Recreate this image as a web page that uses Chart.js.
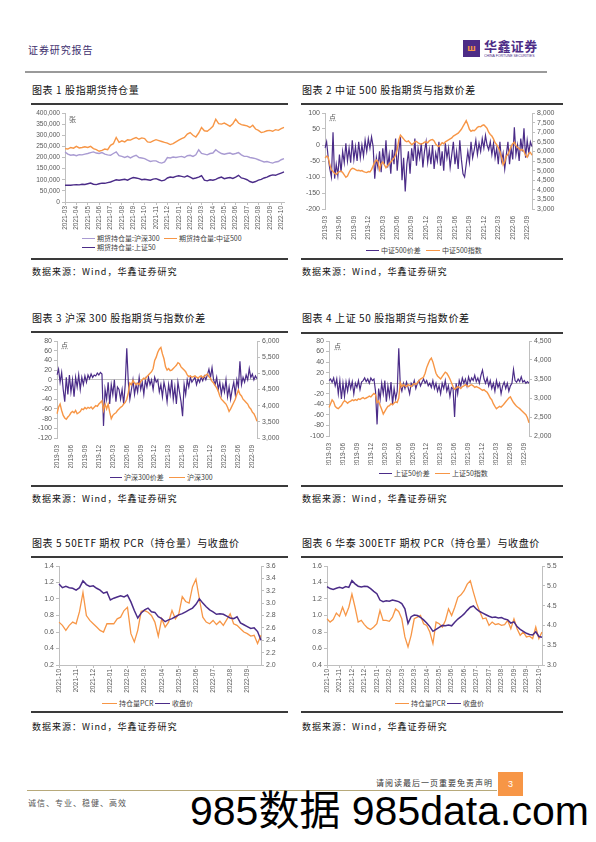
<!DOCTYPE html>
<html>
<head>
<meta charset="utf-8">
<script src="https://cdn.jsdelivr.net/npm/chart.js@4.4.0/dist/chart.umd.min.js"></script>
<style>
  body { margin: 0; background: #fff; }
  #page { position: relative; width: 596px; height: 842px; overflow: hidden; font-family: "Noto Sans CJK SC", "Liberation Sans", sans-serif; color: #1a1a1a; }
  #page div, #page canvas { position: absolute; white-space: nowrap; }
  .title { font-size: 10px; line-height: 12px; letter-spacing: 0.6px; color: #111; }
  .rule  { height: 1.5px; background: #3a3a3a; }
  .src   { font-size: 9px; line-height: 12px; letter-spacing: 1px; color: #111; }
  .lg    { font-size: 7px; line-height: 8px; color: #404040; }
  .sw    { height: 1.6px; }
  .unit  { font-size: 7px; line-height: 8px; color: #595959; }
</style>
</head>
<body>
<div id="page">
  <!-- header -->
  <div style="left:28px;top:44px;font-size:10px;line-height:12px;letter-spacing:0.9px;color:#3e2f6e;">证券研究报告</div>
  <div style="left:463px;top:40px;width:17px;height:17px;background:#4d2c86;color:#f79646;font:bold 8px/17px 'DejaVu Sans';text-align:center;">ш</div>
  <div style="left:484px;top:38px;font-size:13px;line-height:15px;font-weight:bold;letter-spacing:0.4px;color:#4d2c86;">华鑫证券</div>
  <div style="left:484px;top:54px;font:7px/8px 'Liberation Sans';color:#4d2c86;transform:scale(0.5);transform-origin:0 0;">CHINA FORTUNE SECURITIES</div>
  <div class="rule" style="left:25px;top:71px;width:522px;background:#9a9a9a;"></div>

  <!-- chart 1 -->
  <div class="title" style="left:32px;top:84px;">图表 1 股指期货持仓量</div>
  <div class="rule" style="left:31px;top:103px;width:257px;"></div>
  <canvas id="c1" width="264" height="124" style="left:26px;top:106px;"></canvas>
  <div class="unit" style="left:69px;top:115px;">张</div>
  <div class="sw" style="left:82px;top:237.5px;width:13px;background:#a99bd2;"></div>
  <div class="lg" style="left:97px;top:234px;">期货持仓量:沪深300</div>
  <div class="sw" style="left:164px;top:237.5px;width:13px;background:#f79646;"></div>
  <div class="lg" style="left:179px;top:234px;">期货持仓量:中证500</div>
  <div class="sw" style="left:82px;top:246.5px;width:13px;background:#4b2c88;"></div>
  <div class="lg" style="left:97px;top:243px;">期货持仓量:上证50</div>
  <div class="rule" style="left:31px;top:258px;width:257px;"></div>
  <div class="src" style="left:32px;top:266px;">数据来源：Wind，华鑫证券研究</div>

  <!-- chart 2 -->
  <div class="title" style="left:302px;top:84px;">图表 2 中证 500 股指期货与指数价差</div>
  <div class="rule" style="left:301px;top:103px;width:262px;"></div>
  <canvas id="c2" width="264" height="134" style="left:298px;top:106px;"></canvas>
  <div class="unit" style="left:329px;top:113px;">点</div>
  <div class="sw" style="left:366px;top:249.5px;width:13px;background:#4b2c88;"></div>
  <div class="lg" style="left:381px;top:246px;">中证500价差</div>
  <div class="sw" style="left:426px;top:249.5px;width:14px;background:#f79646;"></div>
  <div class="lg" style="left:442px;top:246px;">中证500指数</div>
  <div class="rule" style="left:301px;top:258px;width:262px;"></div>
  <div class="src" style="left:302px;top:266px;">数据来源：Wind，华鑫证券研究</div>

  <!-- chart 3 -->
  <div class="title" style="left:32px;top:312px;">图表 3 沪深 300 股指期货与指数价差</div>
  <div class="rule" style="left:31px;top:331px;width:257px;"></div>
  <canvas id="c3" width="264" height="134" style="left:26px;top:334px;"></canvas>
  <div class="unit" style="left:61px;top:341px;">点</div>
  <div class="sw" style="left:110px;top:476.5px;width:12px;background:#4b2c88;"></div>
  <div class="lg" style="left:124px;top:473px;">沪深300价差</div>
  <div class="sw" style="left:169px;top:476.5px;width:16px;background:#f79646;"></div>
  <div class="lg" style="left:187px;top:473px;">沪深300</div>
  <div class="rule" style="left:31px;top:485px;width:257px;"></div>
  <div class="src" style="left:32px;top:493px;">数据来源：Wind，华鑫证券研究</div>

  <!-- chart 4 -->
  <div class="title" style="left:302px;top:312px;">图表 4 上证 50 股指期货与指数价差</div>
  <div class="rule" style="left:301px;top:332px;width:262px;"></div>
  <canvas id="c4" width="264" height="131" style="left:298px;top:334px;"></canvas>
  <div class="unit" style="left:334px;top:342px;">点</div>
  <div class="sw" style="left:379px;top:472.5px;width:13px;background:#4b2c88;"></div>
  <div class="lg" style="left:394px;top:469px;">上证50价差</div>
  <div class="sw" style="left:435px;top:472.5px;width:15px;background:#f79646;"></div>
  <div class="lg" style="left:452px;top:469px;">上证50指数</div>
  <div class="rule" style="left:301px;top:485px;width:262px;"></div>
  <div class="src" style="left:302px;top:493px;">数据来源：Wind，华鑫证券研究</div>

  <!-- chart 5 -->
  <div class="title" style="left:32px;top:537px;">图表 5 50ETF 期权 PCR（持仓量）与收盘价</div>
  <div class="rule" style="left:31px;top:556px;width:257px;"></div>
  <canvas id="c5" width="264" height="136" style="left:26px;top:559px;"></canvas>
  <div class="sw" style="left:102px;top:702.5px;width:15px;background:#f79646;"></div>
  <div class="lg" style="left:119px;top:699px;">持仓量PCR</div>
  <div class="sw" style="left:155px;top:702.5px;width:15px;background:#4b2c88;"></div>
  <div class="lg" style="left:172px;top:699px;">收盘价</div>
  <div class="rule" style="left:31px;top:711px;width:257px;"></div>
  <div class="src" style="left:32px;top:721px;">数据来源：Wind，华鑫证券研究</div>

  <!-- chart 6 -->
  <div class="title" style="left:302px;top:537px;">图表 6 华泰 300ETF 期权 PCR（持仓量）与收盘价</div>
  <div class="rule" style="left:301px;top:556px;width:262px;"></div>
  <canvas id="c6" width="264" height="136" style="left:298px;top:559px;"></canvas>
  <div class="sw" style="left:395px;top:702.5px;width:14px;background:#f79646;"></div>
  <div class="lg" style="left:411px;top:699px;">持仓量PCR</div>
  <div class="sw" style="left:447px;top:702.5px;width:14px;background:#4b2c88;"></div>
  <div class="lg" style="left:463px;top:699px;">收盘价</div>
  <div class="rule" style="left:301px;top:711px;width:262px;"></div>
  <div class="src" style="left:302px;top:721px;">数据来源：Wind，华鑫证券研究</div>

  <!-- footer -->
  <div style="left:376px;top:778px;font-size:8px;line-height:10px;letter-spacing:1px;color:#333;">请阅读最后一页重要免责声明</div>
  <div style="left:498px;top:772px;width:25px;height:24px;background:#f79646;color:#fff;font:9px/24px 'Liberation Sans';text-align:center;">3</div>
  <div style="left:27px;top:790px;width:470px;height:1px;background:#b7a97a;"></div>
  <div style="left:28px;top:798px;font-size:8px;line-height:10px;letter-spacing:1px;color:#555;">诚信、专业、稳健、高效</div>
  <div style="left:190px;top:789px;font-family:'Liberation Sans','Noto Sans CJK SC',sans-serif;font-size:41px;line-height:44px;color:#000;">985数据 985data.com</div>
</div>

<script>
// ---- chart 1: 股指期货持仓量 (4 points per month)
const c1Months = ['2021-03','2021-04','2021-05','2021-06','2021-07','2021-08','2021-09','2021-10','2021-11','2021-12',
                  '2022-01','2022-02','2022-03','2022-04','2022-05','2022-06','2022-07','2022-08','2022-09','2022-10'];
const c1Hs300 = [225000,215000,210000,212000, 208000,213000,212000,215000, 218000,222000,225000,220000, 218000,222000,215000,212000,
                 210000,218000,225000,208000, 205000,200000,205000,198000, 205000,210000,200000,198000, 195000,188000,182000,185000,
                 185000,178000,175000,180000, 200000,198000,202000,200000, 203000,205000,200000,208000, 210000,205000,212000,235000,
                 218000,215000,212000,218000, 220000,235000,225000,218000, 215000,218000,220000,215000, 218000,222000,212000,205000,
                 205000,200000,198000,195000, 190000,185000,180000,182000, 178000,175000,180000,182000, 190000,195000];
const c1Zz500 = [240000,238000,245000,242000, 250000,243000,245000,248000, 245000,250000,240000,235000, 228000,232000,238000,235000,
                 255000,262000,290000,268000, 275000,270000,280000,278000, 285000,290000,282000,288000, 285000,270000,268000,275000,
                 280000,276000,272000,268000, 265000,258000,262000,270000, 278000,285000,290000,305000, 312000,300000,292000,310000,
                 335000,320000,318000,328000, 340000,372000,352000,350000, 355000,348000,340000,352000, 372000,355000,348000,345000,
                 342000,335000,345000,328000, 322000,312000,315000,320000, 322000,318000,325000,322000, 330000,335000];
const c1Sz50  = [75000,76000,75000,77000, 78000,77000,80000,79000, 82000,85000,80000,78000, 82000,85000,84000,87000,
                 90000,95000,100000,98000, 100000,102000,98000,105000, 110000,108000,105000,100000, 102000,100000,98000,103000,
                 105000,100000,95000,98000, 108000,112000,110000,115000, 118000,115000,112000,118000, 112000,105000,108000,112000,
                 118000,98000,95000,100000, 98000,102000,108000,112000, 105000,108000,110000,106000, 112000,120000,108000,105000,
                 100000,92000,88000,92000, 98000,102000,108000,112000, 118000,122000,120000,125000, 130000,135000];

// ---- charts 2-4: futures basis vs index (3 points per month, 2019-03 .. 2022-10)
const qLabels = ['2019-03','2019-06','2019-09','2019-12','2020-03','2020-06','2020-09','2020-12',
                 '2021-03','2021-06','2021-09','2021-12','2022-03','2022-06','2022-09'];
const c2Spread = [-10,10,-40,-75,-100,40,-105,-60,-95,-30, -85,-20,-55,5,-50,-10,-55,15,-45,-5,
                  -50,10,-40,0,-35,15,-20,20,-10,25, -5,-105,-40,-70,-20,-85,-10,-60,15,-70,
                  -30,-90,-15,-60,20,-80,-20,25,-110,-40, -145,-60,-20,-90,-10,-50,20,-65,-10,-40,
                  5,-70,-20,10,-55,-15,-60,0,-75,-25, -50,10,-65,-20,-80,5,-40,-10,-70,-30,
                  10,-60,-20,-75,15,-45,-90,-100,-60,-20, -55,10,-40,-15,15,-30,5,-20,20,-10,
                  30,0,-15,10,-30,5,-40,-10,-60,10, -50,-25,-75,-30,10,-60,-10,-45,55,-30,
                  0,-50,20,-20,52,-40,15,-25,10,-5];
const c2Index = [5650,5750,5700,5300,5050,4950,4850,4800,4900,4950, 4980,4900,4780,4650,4720,4900,5050,5120,5100,5050,
                 5000,5020,4980,5000,4950,4920,4900,4950,4930,5050, 5250,5450,5550,5480,5050,5350,5450,5300,5150,5250,
                 5350,5450,5550,5650,5800,6100,6600,6850,6750,6650, 6550,6500,6550,6450,6350,6400,6500,6520,6450,6400,
                 6380,6420,6480,6500,6450,6550,6600,6620,6550,6380, 6300,6250,6350,6450,6400,6500,6550,6600,6650,6700,
                 6800,6850,6900,6950,7050,7150,7300,7450,7600,7400, 7150,7050,7100,7080,7150,7250,7300,7280,7350,7380,
                 7300,7200,7000,6880,6800,6650,6450,6350,6200,6000, 5700,5300,5450,5750,5850,6050,6250,6400,6480,6300,
                 6200,6150,6050,6100,6000,5800,5700,5900,5950,5800];
const c3Spread = [10,22,-5,15,-20,-45,5,-30,10,-25, 0,-35,5,-15,10,-20,5,-10,8,-5,
                  10,2,12,5,10,8,14,10,15,12, -95,-20,-40,-5,-50,-10,-30,0,-45,-15,
                  -20,-40,-20,-50,-10,65,-5,-40,-20,0, -30,-10,-25,5,-20,-5,-30,0,-15,5,
                  -10,0,-20,5,-5,0,-25,-10,-35,-5, -20,-45,-10,-30,0,-40,-15,-50,-5,-25,
                  -45,-75,-10,-30,0,-15,5,-5,0,5, -10,2,-5,5,-2,8,0,10,22,5,
                  25,0,-10,5,-20,-5,-30,-10,-25,0, -35,-15,-40,-20,-5,-30,0,-15,38,-10,
                  5,-5,10,0,23,5,12,0,8,2];
const c3Index = [3750,3950,4050,3850,3700,3620,3580,3650,3700,3780, 3820,3780,3850,3750,3780,3820,3900,3880,3940,3900,
                 3950,3920,3960,3900,3950,4000,3980,4050,4100,4150, 3850,4050,3900,4050,3800,3600,3700,3750,3780,3850,
                 3900,3950,3980,4050,4100,4200,4400,4700,4650,4780, 4700,4650,4700,4650,4750,4800,4850,4830,4900,4950,
                 5000,5050,5150,5400,5500,5650,5750,5800,5600,5450, 5200,5100,5150,5080,5100,5150,5200,5250,5330,5300,
                 5200,5150,5100,5050,4950,4900,4920,4880,4900,4920, 4880,4850,4900,4920,4870,4900,4950,4980,4900,4850,
                 4750,4700,4620,4550,4450,4300,4200,4150,4100,4050, 3950,3820,3900,4000,4100,4200,4350,4480,4350,4300,
                 4200,4150,4100,4050,3950,3900,3800,3750,3650,3520];
const c4Spread = [5,8,2,10,-5,8,-20,5,-30,0, -25,2,-15,5,-10,3,-20,0,-8,5,
                  -12,2,5,10,3,8,0,10,5,8, -15,-78,-10,-30,0,-20,5,-35,-5,-25,
                  2,-40,-10,-30,-15,66,-5,-15,0,-10, 2,-8,-20,0,-5,5,-10,0,5,-5,
                  2,8,0,5,-5,0,-8,5,-10,0, -15,-5,-20,0,-10,5,-15,-5,-25,-8,
                  -10,-64,0,-20,5,-5,10,0,8,-5, 12,2,10,5,15,3,10,0,15,25,
                  8,0,10,-5,5,-10,0,-15,5,-8, 0,-20,-5,2,-10,0,-15,-5,0,26,
                  5,2,8,3,12,2,5,0,3,0];
const c4Index = [2750,2850,2950,2900,2780,2740,2720,2760,2800,2880, 2930,2900,2860,2900,2920,2950,2930,2960,2940,2980,
                 2960,2990,3010,2980,3000,3020,3050,3030,3080,3120, 3090,2880,2920,2800,2700,2580,2650,2720,2780,2800,
                 2850,2820,2870,2900,2880,3000,3400,3300,3350,3320, 3300,3350,3330,3300,3350,3380,3360,3400,3450,3500,
                 3520,3550,3650,3800,3900,4000,4050,3950,3800,3650, 3580,3540,3500,3560,3620,3680,3650,3580,3500,3400,
                 3300,3230,3260,3300,3280,3250,3300,3320,3350,3320, 3300,3330,3350,3320,3280,3300,3280,3260,3230,3200,
                 3220,3180,3150,3080,3000,2950,2850,2780,2720,2750, 2780,2760,2800,2850,2900,2950,3000,3030,2950,2880,
                 2830,2780,2750,2720,2680,2640,2600,2560,2480,2350];

// ---- chart 5: 50ETF PCR (5 points per month)
const c5Months = ['2021-10','2021-11','2021-12','2022-01','2022-02','2022-03','2022-04','2022-05','2022-06','2022-07','2022-08','2022-09'];
const c5Pcr   = [0.72,0.68,0.62,0.68,0.72,0.70,0.85,1.08,0.80,0.74, 0.70,0.66,0.62,0.60,0.70,0.70,0.70,0.76,0.78,0.86,
                 0.90,0.58,0.48,0.62,0.85,0.86,0.84,0.80,0.72,0.55, 0.76,0.66,0.72,0.86,0.76,0.82,1.03,0.97,0.95,1.15,
                 1.24,1.00,0.78,0.72,0.70,0.74,0.69,0.73,0.68,0.75, 0.82,0.70,0.68,0.64,0.60,0.58,0.55,0.56,0.46,0.56];
const c5Close = [3.31,3.25,3.27,3.25,3.24,3.21,3.25,3.36,3.30,3.27, 3.28,3.24,3.21,3.16,3.18,3.05,3.08,3.10,3.12,3.10,
                 3.13,3.02,2.88,2.76,2.84,2.89,2.92,2.86,2.85,2.78, 2.75,2.70,2.73,2.75,2.78,2.81,2.83,2.86,2.89,2.92,
                 2.98,3.07,3.00,2.94,2.89,2.86,2.82,2.83,2.82,2.79, 2.76,2.75,2.78,2.68,2.65,2.62,2.59,2.60,2.54,2.40];

// ---- chart 6: 华泰300ETF PCR (4 points per tick label)
const c6Ticks = ['2021-10','2021-11','2021-12','2021-12','2022-01','2022-02','2022-03','2022-03','2022-04',
                 '2022-05','2022-06','2022-06','2022-07','2022-07','2022-08','2022-09','2022-09','2022-10'];
const c6Pcr   = [0.96,0.92,0.95,1.03,0.99,1.10,1.00,1.10,1.26,1.10, 0.92,0.94,0.89,0.85,0.83,0.86,0.90,1.06,0.94,0.94,
                 0.93,0.98,1.08,1.05,0.96,0.74,0.62,0.76,0.96,0.98, 1.00,0.90,0.88,0.80,0.66,0.92,0.90,0.86,0.94,1.08,
                 1.00,1.10,1.22,1.25,1.30,1.38,1.42,1.28,1.15,1.05, 0.96,0.97,0.88,0.92,0.89,0.90,0.88,0.89,0.94,0.84,
                 0.96,0.84,0.76,0.80,0.74,0.75,0.72,0.86,0.72,0.80];
const c6Close = [4.98,4.93,4.91,4.94,4.96,4.94,4.98,4.96,5.13,5.05, 4.99,4.97,4.99,4.98,4.93,4.86,4.80,4.64,4.60,4.62,
                 4.61,4.64,4.62,4.60,4.55,4.42,4.05,4.22,4.26,4.25, 4.20,4.14,4.06,3.97,3.85,3.90,3.95,4.00,3.99,4.01,
                 3.99,4.08,4.16,4.22,4.29,4.38,4.46,4.49,4.41,4.35, 4.31,4.27,4.23,4.20,4.21,4.19,4.20,4.16,4.14,4.06,
                 4.09,3.97,3.90,3.85,3.80,3.77,3.76,3.84,3.72,3.70];

const ORANGE = '#F79646';
const PURPLE = '#4B2C88';
const LILAC  = '#A99BD2';
const AXIS   = '#BFBFBF';
const TXT    = '#595959';
const numFont = "'Liberation Sans', Arial, sans-serif";

// spread tick labels over the data points, blank in between
function expand(ticks, step, n) {
  const out = [];
  for (let i = 0; i < n; i++) out.push(i % step === 0 && ticks[i / step] ? ticks[i / step] : '');
  return out;
}

const fmtK = v => v.toLocaleString('en-US');
const fmt0 = v => String(v);
const fmt1 = v => v.toFixed(1);

function yAxis(side, a) {
  return {
    type: 'linear', position: side, min: a.min, max: a.max,
    ticks: { stepSize: a.step, autoSkip: false, color: TXT, font: { family: numFont, size: a.size || 7 }, padding: 2, callback: a.fmt },
    grid: {
      drawOnChartArea: !!a.zero,
      color: c => (c.tick && c.tick.value === 0) ? AXIS : 'rgba(0,0,0,0)',
      tickColor: AXIS, tickLength: 3
    },
    border: { color: AXIS },
    afterFit: s => { s.width = a.w; }
  };
}

function lineChart(id, labels, datasets, o) {
  const scales = {
    x: {
      type: 'category', offset: false,
      afterBuildTicks: ax => { ax.ticks = ax.ticks.filter(t => labels[t.value] !== ''); },
      ticks: { autoSkip: false, minRotation: 90, maxRotation: 90, color: TXT, font: { family: numFont, size: 6.5 }, padding: o.xLine ? 1 : 4 },
      grid: { display: o.xLine, drawOnChartArea: false, color: AXIS, tickLength: 3 },
      border: { display: o.xLine, color: AXIS },
      afterFit: s => { s.height = o.xH; }
    },
    y: yAxis('left', o.yL)
  };
  if (o.yR) scales.y1 = yAxis('right', o.yR);

  return new Chart(document.getElementById(id), {
    type: 'line',
    data: { labels: labels, datasets: datasets },
    options: {
      responsive: false, animation: false,
      layout: { padding: { top: 7, right: o.padR || 0, left: 0, bottom: 0 } },
      plugins: { legend: { display: false }, tooltip: { enabled: false } },
      elements: { point: { radius: 0 }, line: { tension: 0 } },
      scales: scales
    }
  });
}

function ds(data, color, axis, order, width) {
  return { data: data, borderColor: color, borderWidth: width || 1.3, yAxisID: axis, order: order, fill: false };
}

// chart 1
lineChart('c1', expand(c1Months, 4, c1Hs300.length), [
  ds(c1Hs300, LILAC, 'y', 2, 1.4),
  ds(c1Zz500, ORANGE, 'y', 1, 1.4),
  ds(c1Sz50, PURPLE, 'y', 0, 1.4)
], { xLine: true, xH: 28, padR: 2,
     yL: { min: 0, max: 400000, step: 50000, fmt: fmtK, w: 39, size: 6.6 } });

// chart 2
lineChart('c2', expand(qLabels, 9, c2Spread.length), [
  ds(c2Spread, PURPLE, 'y', 1, 1.2),
  ds(c2Index, ORANGE, 'y1', 0, 1.4)
], { xLine: false, xH: 31,
     yL: { min: -200, max: 100, step: 50, fmt: fmt0, w: 27, zero: true },
     yR: { min: 3000, max: 8000, step: 500, fmt: fmtK, w: 30 } });

// chart 3
lineChart('c3', expand(qLabels, 9, c3Spread.length), [
  ds(c3Spread, PURPLE, 'y', 1, 1.2),
  ds(c3Index, ORANGE, 'y1', 0, 1.4)
], { xLine: false, xH: 30,
     yL: { min: -120, max: 80, step: 20, fmt: fmt0, w: 31, zero: true },
     yR: { min: 3000, max: 6000, step: 500, fmt: fmtK, w: 33 } });

// chart 4
lineChart('c4', expand(qLabels, 9, c4Spread.length), [
  ds(c4Spread, PURPLE, 'y', 1, 1.2),
  ds(c4Index, ORANGE, 'y1', 0, 1.4)
], { xLine: false, xH: 29,
     yL: { min: -100, max: 80, step: 20, fmt: fmt0, w: 31, zero: true },
     yR: { min: 2000, max: 4500, step: 500, fmt: fmtK, w: 33 } });

// chart 5
lineChart('c5', expand(c5Months, 5, c5Pcr.length), [
  ds(c5Pcr, ORANGE, 'y', 1, 1.3),
  ds(c5Close, PURPLE, 'y1', 0, 1.5)
], { xLine: true, xH: 30,
     yL: { min: 0.2, max: 1.4, step: 0.2, fmt: fmt1, w: 33 },
     yR: { min: 2.0, max: 3.6, step: 0.2, fmt: fmt1, w: 29 } });

// chart 6
lineChart('c6', expand(c6Ticks, 4, c6Pcr.length), [
  ds(c6Pcr, ORANGE, 'y', 1, 1.3),
  ds(c6Close, PURPLE, 'y1', 0, 1.5)
], { xLine: true, xH: 30,
     yL: { min: 0.4, max: 1.6, step: 0.2, fmt: fmt1, w: 29 },
     yR: { min: 3.0, max: 5.5, step: 0.5, fmt: fmt1, w: 20 } });
</script>
</body>
</html>
